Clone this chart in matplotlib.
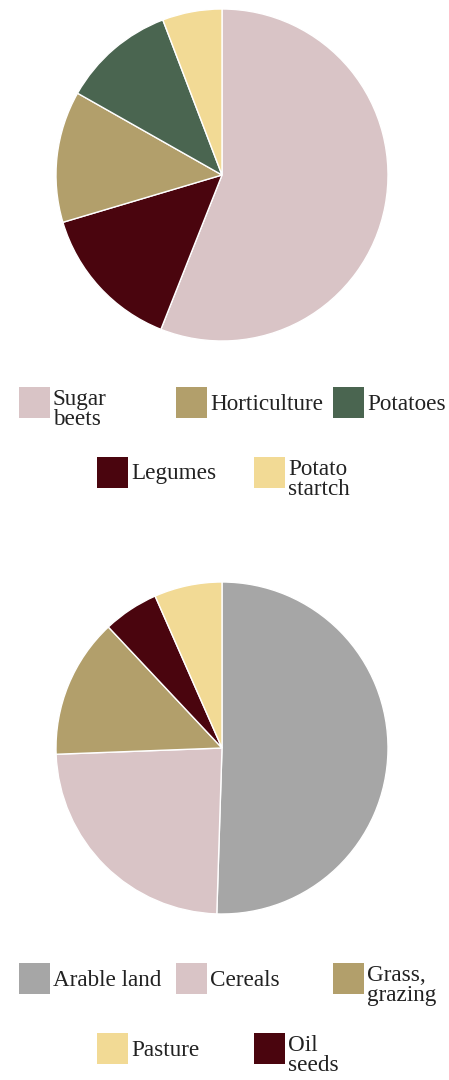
import matplotlib
matplotlib.use("Agg")
import matplotlib.pyplot as plt
from matplotlib.patches import Rectangle

# Crop shares (percent), listed clockwise from 12 o'clock
crop_labels = ["Sugar beets", "Legumes", "Horticulture", "Potatoes", "Potato startch"]
crop_values = [56.0, 14.4, 12.8, 11.0, 5.8]
crop_colors = ["#D9C4C6", "#4A050E", "#B29F6B", "#4A6550", "#F2DA95"]
crop_legend = ["Sugar\nbeets", "Horticulture", "Potatoes", "Legumes", "Potato\nstartch"]
crop_legend_keys = ["Sugar beets", "Horticulture", "Potatoes", "Legumes", "Potato startch"]

# Land use shares (percent), listed clockwise from 12 o'clock
land_labels = ["Arable land", "Cereals", "Grass, grazing", "Oil seeds", "Pasture"]
land_values = [50.5, 23.9, 13.6, 5.4, 6.6]
land_colors = ["#A6A6A6", "#D9C4C6", "#B29F6B", "#4A050E", "#F2DA95"]
land_legend = ["Arable land", "Cereals", "Grass,\ngrazing", "Pasture", "Oil\nseeds"]
land_legend_keys = ["Arable land", "Cereals", "Grass, grazing", "Pasture", "Oil seeds"]

W, H = 449, 1080
fig = plt.figure(figsize=(W / 100, H / 100), dpi=100)
fig.patch.set_facecolor("white")

FONT = "Liberation Serif"
TEXT_COLOR = "#222222"


def px_axes(cx, cy, r):
    """Axes box (figure fraction) for a pie centred at pixel (cx, cy) with radius r."""
    return [(cx - r) / W, 1 - (cy + r) / H, 2 * r / W, 2 * r / H]


def draw_pie(cx, cy, r, values, colors):
    ax = fig.add_axes(px_axes(cx, cy, r))
    ax.pie(values, colors=colors, startangle=90, counterclock=False,
           wedgeprops=dict(edgecolor="white", linewidth=1.0))
    ax.set_xlim(-1, 1)
    ax.set_ylim(-1, 1)
    ax.set_aspect("equal")
    ax.axis("off")


def draw_legend(top_y, texts, keys, labels, colors):
    color_of = dict(zip(labels, colors))
    slots = [(19, top_y), (176, top_y), (333, top_y),
             (97, top_y + 70), (254, top_y + 70)]
    size = 31
    for (x, y), text, key in zip(slots, texts, keys):
        fig.patches.append(Rectangle((x / W, 1 - (y + size) / H), size / W, size / H,
                                     transform=fig.transFigure, facecolor=color_of[key],
                                     edgecolor="none"))
        lines = text.split("\n")
        if len(lines) == 1:
            baselines = [y + 22.5]
        else:
            baselines = [y + 18 + 20 * i for i in range(len(lines))]
        for line, b in zip(lines, baselines):
            fig.text((x + size + 3) / W, 1 - b / H, line, fontsize=16.7, family=FONT,
                     color=TEXT_COLOR, ha="left", va="baseline")


draw_pie(222, 175, 166, crop_values, crop_colors)
draw_legend(387, crop_legend, crop_legend_keys, crop_labels, crop_colors)

draw_pie(222, 748, 166, land_values, land_colors)
draw_legend(963, land_legend, land_legend_keys, land_labels, land_colors)

fig.savefig("out.png", dpi=100, facecolor="white")
